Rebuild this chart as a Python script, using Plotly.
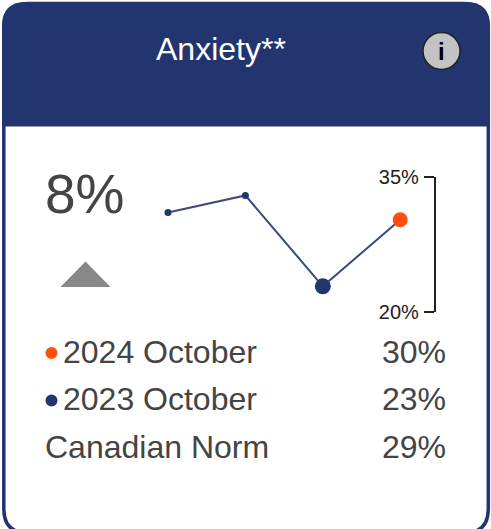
import plotly.graph_objects as go

W, H = 491, 529
FONT = "Liberation Sans, Arial, sans-serif"
NAVY = "#22356f"
ORANGE = "#ff4e0d"
TEXT = "#444444"

# --- data ---
periods = ["2021 October", "2022 October", "2023 October", "2024 October"]
values = [31.0, 32.9, 22.8, 30.2]
marker_sizes = [7, 7, 16, 15]
marker_colors = [NAVY, NAVY, NAVY, ORANGE]
axis_ticks = [20, 35]
axis_labels = ["20%", "35%"]
title = "Anxiety**"
change_label = "8%"
row_labels = ["2024 October", "2023 October", "Canadian Norm"]
row_values = ["30%", "23%", "29%"]
row_dots = [ORANGE, NAVY, None]


def px(x):
    return x / W


def py(y):
    return 1 - y / H


def rounded(x0, y0, x1, y1, r, square_bottom=False):
    a, b, c, d = px(x0), py(y0), px(x1), py(y1)
    rx, ry = r / W, r / H
    if square_bottom:
        return (f"M {a} {d} L {a} {b - ry} Q {a} {b} {a + rx} {b} L {c - rx} {b} "
                f"Q {c} {b} {c} {b - ry} L {c} {d} Z")
    return (f"M {a} {d + ry} L {a} {b - ry} Q {a} {b} {a + rx} {b} L {c - rx} {b} "
            f"Q {c} {b} {c} {b - ry} L {c} {d + ry} Q {c} {d} {c - rx} {d} "
            f"L {a + rx} {d} Q {a} {d} {a} {d + ry} Z")


def circle(cx, cy, r, fill, line=None, lw=0):
    return dict(type="circle", xref="paper", yref="paper", layer="above",
                x0=px(cx - r), x1=px(cx + r), y0=py(cy + r), y1=py(cy - r),
                fillcolor=fill, line=dict(color=line or fill, width=lw))


shapes = [
    # card body and border
    dict(type="path", xref="paper", yref="paper", layer="below",
         path=rounded(3.8, 3.5, 488.3, 533, 24), fillcolor="white",
         line=dict(color=NAVY, width=3.5)),
    # header band
    dict(type="path", xref="paper", yref="paper", layer="below",
         path=rounded(2, 2, 490, 126.5, 24, square_bottom=True), fillcolor=NAVY,
         line=dict(width=0)),
    # change triangle
    dict(type="path", xref="paper", yref="paper", layer="above",
         path=f"M {px(60.5)} {py(287)} L {px(85.5)} {py(261.5)} L {px(110.5)} {py(287)} Z",
         fillcolor="#888888", line=dict(width=0)),
    # info icon
    circle(441.5, 51, 18.5, "#c3c3c3", "#222222", 1.5),
]

annotations = [
    dict(text=title, x=px(220.5), y=py(49), font=dict(size=32, color="white")),
    dict(text="<b>i</b>", x=px(441.5), y=py(51), font=dict(size=24, color="black")),
    dict(text=change_label, x=px(84.5), y=py(194), font=dict(size=55, color=TEXT)),
]

row_y = [351.5, 399, 447]
for label, val, dot, y in zip(row_labels, row_values, row_dots, row_y):
    annotations.append(dict(text=label, x=px(61 if dot else 42.5), y=py(y), xanchor="left",
                            font=dict(size=32, color=TEXT)))
    annotations.append(dict(text=val, x=px(448), y=py(y), xanchor="right",
                            font=dict(size=32, color=TEXT)))
    if dot:
        shapes.append(circle(51.5, y + 1.5, 6, dot))

for a in annotations:
    a.update(xref="paper", yref="paper", showarrow=False)
    a.setdefault("xanchor", "center")
    a["yanchor"] = "middle"

fig = go.Figure(go.Scatter(
    x=periods, y=values, mode="lines+markers",
    line=dict(color="#3a4a80", width=2),
    marker=dict(size=marker_sizes, color=marker_colors, opacity=1, line=dict(width=0)),
    hoverinfo="skip", cliponaxis=False, showlegend=False,
))

fig.update_layout(
    width=W, height=H, margin=dict(l=0, r=0, t=0, b=0, pad=0, autoexpand=False),
    paper_bgcolor="white", plot_bgcolor="rgba(0,0,0,0)",
    font=dict(family=FONT, color=TEXT),
    shapes=shapes, annotations=annotations, showlegend=False,
    xaxis=dict(domain=[0, 435.5 / W], type="category",
               range=[-168 / 77.4, (435.5 - 168) / 77.4],
               visible=False, fixedrange=True, automargin=False),
    yaxis=dict(domain=[1 - 311.5 / H, 1 - 176.5 / H], range=[20, 35], side="left",
               anchor="free", position=434.8 / W, automargin=False,
               tickmode="array", tickvals=axis_ticks, ticktext=axis_labels,
               ticks="outside", ticklen=10, tickwidth=2, tickcolor="#222222",
               ticklabelstandoff=1,
               tickfont=dict(size=20, color="#222222", family=FONT),
               showline=True, linecolor="#222222", linewidth=2,
               showgrid=False, zeroline=False, fixedrange=True),
)

fig.write_html("out.html", config=dict(displayModeBar=False),
               post_script="document.body.style.margin='0';document.documentElement.style.overflow='hidden';")
